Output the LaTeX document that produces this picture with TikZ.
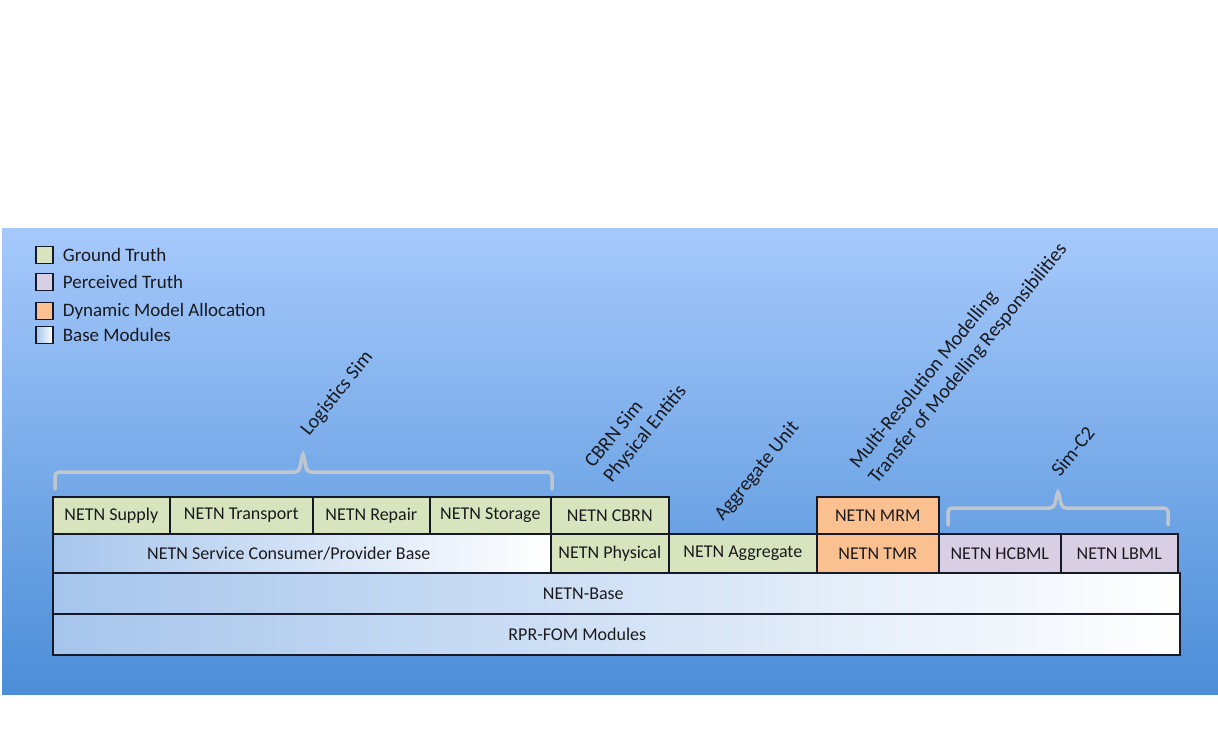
\documentclass[tikz,border=0pt]{standalone}
\usepackage{fontspec}
\setmainfont{Carlito}
\usetikzlibrary{positioning}
\definecolor{bgtop}{RGB}{166,201,251}
\definecolor{bgbot}{RGB}{76,142,216}
\definecolor{ground}{RGB}{215,228,189}
\definecolor{perceived}{RGB}{216,207,229}
\definecolor{dynamic}{RGB}{250,192,144}
\definecolor{baseblue}{RGB}{166,197,236}
\definecolor{boxline}{RGB}{22,26,40}
\definecolor{bracegray}{RGB}{192,198,206}
\definecolor{txt}{RGB}{26,26,30}
\tikzset{
    module/.style={draw=boxline, line width=1.6pt, inner sep=0pt, anchor=north west,
        text=txt, font=\fontsize{18}{22}\selectfont},
    groundbox/.style={module, fill=ground},
    percbox/.style={module, fill=perceived},
    dynbox/.style={module, fill=dynamic},
    basebox/.style={module, left color=baseblue, right color=white} }
\tikzset{
    key/.style={draw=boxline, line width=1.3pt, minimum size=17pt, inner sep=0pt},
    keytext/.style={inner sep=0pt, anchor=west, text=txt, font=\fontsize{19}{22}\selectfont},
    tag/.style={rotate=51, inner sep=0pt, align=left, anchor=base west, text=txt,
        font=\fontsize{20}{24}\selectfont},
    brace/.style={draw=bracegray, line width=3.5pt, rounded corners=4pt, line cap=round} }

\begin{document}
\begin{tikzpicture}[x=1pt,y=-1pt]

  \useasboundingbox (0,0) rectangle (1218,747);
  \fill[white] (0,0) rectangle (1218,747);
  \shade[top color=bgtop, bottom color=bgbot] (2,228) rectangle (1218,694);

% legend
  \node[key, fill=ground] (kground) at (44.5,255) {};
  \node[key, fill=perceived] (kperc) at (44.5,282) {};
  \node[key, fill=dynamic] (kdyn) at (44.5,311) {};
  \node[key, left color=baseblue, right color=white] (kbase) at (44.5,335) {};
  \node[keytext, right=9pt of kground] {Ground Truth};
  \node[keytext, right=9pt of kperc] {Perceived Truth};
  \node[keytext, right=9pt of kdyn] {Dynamic Model Allocation};
  \node[keytext, right=9pt of kbase] {Base Modules};

% top row
  \node[groundbox, minimum width=117, minimum height=37] (supply) at (52,496) {NETN Supply};
  \node[groundbox, minimum width=143, minimum height=37] (transport) at (169,496) {NETN Transport};
  \node[groundbox, minimum width=117, minimum height=37] (repair) at (312,496) {NETN Repair};
  \node[groundbox, minimum width=121, minimum height=37] (storage) at (429,496) {NETN Storage};
  \node[groundbox, minimum width=118, minimum height=37] (cbrn) at (550,496) {NETN CBRN};
  \node[dynbox, minimum width=122, minimum height=37] (mrm) at (816,496) {NETN MRM};

% second row
  \node[basebox, minimum width=498, minimum height=39] (scp) at (52,533) {};
  \node[text=txt, font=\fontsize{18}{22}\selectfont] at ([xshift=-13pt]scp.center) {NETN Service Consumer/Provider Base};
  \node[groundbox, minimum width=118, minimum height=39] (physical) at (550,533) {NETN Physical};
  \node[groundbox, minimum width=148, minimum height=39] (aggregate) at (668,533) {NETN Aggregate};
  \node[dynbox, minimum width=122, minimum height=39] (tmr) at (816,533) {NETN TMR};
  \node[percbox, minimum width=122, minimum height=39] (hcbml) at (938,533) {NETN HCBML};
  \node[percbox, minimum width=117, minimum height=39] (lbml) at (1060,533) {NETN LBML};

% base layers
  \node[basebox, minimum width=1127, minimum height=41] (netnbase) at (52,572) {};
  \node[text=txt, font=\fontsize{18}{22}\selectfont] at ([xshift=-33pt]netnbase.center) {NETN-Base};
  \node[basebox, minimum width=1127, minimum height=41] (rpr) at (52,613) {};
  \node[text=txt, font=\fontsize{18}{22}\selectfont] at ([xshift=-39pt]rpr.center) {RPR-FOM Modules};

% braces
  \draw[brace] (55,489) -- (55,472) -- (299,472) -- (303,452) -- (307,472) -- (552,472) -- (552,489);
  \draw[brace] (948,525) -- (948,508) -- (1054,508) -- (1058,490) -- (1062,508) -- (1168,508) -- (1168,525);

% slanted labels (base = last line)
  \node[tag] (logsim) at (309,437) {Logistics Sim};
  \node[tag] (cbrnsim) at (612,484) {CBRN Sim\\Physical Entitis};
  \node[tag] (aggunit) at (723,522) {Aggregate Unit};
  \node[tag] (mrmtag) at (877,485) {Multi-Resolution Modelling\\Transfer of Modelling Responsibilities};
  \node[tag] (simc2) at (1060,478) {Sim-C2};

\end{tikzpicture}
\end{document}
